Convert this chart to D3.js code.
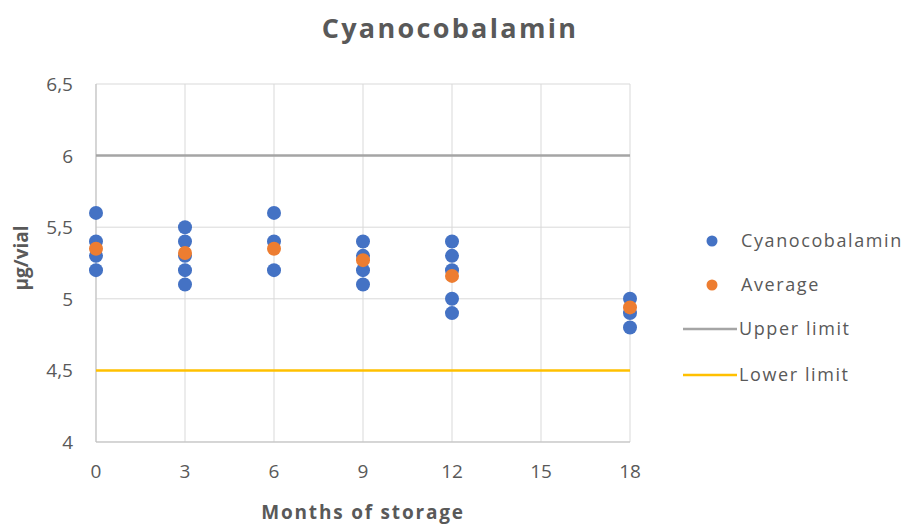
<!DOCTYPE html>
<html>
<head>
<meta charset="utf-8">
<script src="https://cdn.jsdelivr.net/npm/d3@7"></script>
<style>
  body { margin: 0; background: #fff; }
  text { font-family: "Open Sans", Lato, sans-serif; fill: #595959; }
</style>
</head>
<body>
<div class="chart"></div>
<script>
// months of storage
const months = [0, 3, 6, 9, 12, 18];
// individual measurements per month (µg/vial)
const measurements = [
	[5.6, 5.4, 5.3, 5.2],
	[5.5, 5.4, 5.3, 5.2, 5.1],
	[5.6, 5.4, 5.2],
	[5.4, 5.3, 5.2, 5.1],
	[5.4, 5.3, 5.2, 5.0, 4.9],
	[5.0, 4.9, 4.8]
];
const averages = [5.35, 5.32, 5.35, 5.27, 5.16, 4.94];
const upperLimit = 6;
const lowerLimit = 4.5;
const xTicks = [0, 3, 6, 9, 12, 15, 18];
const yTicks = [4, 4.5, 5, 5.5, 6, 6.5];
const legendLabels = ['Cyanocobalamin', 'Average', 'Upper limit', 'Lower limit'];

function renderChart() {
	const width = 907;
	const height = 524;
	const svg = d3.select('.chart')
				.append('svg')
				.attr('width', width)
				.attr('height', height);

	const x = d3.scaleLinear().domain([0, 18]).range([96, 630]);
	const y = d3.scaleLinear().domain([4, 6.5]).range([442, 84]);
	const fmt = v => String(v).replace('.', ',');

	// gridlines
	svg.selectAll('.hgrid')
		.data(yTicks)
		.enter()
		.append('line')
		.attr('x1', x(0))
		.attr('x2', x(18))
		.attr('y1', d => y(d))
		.attr('y2', d => y(d))
		.attr('stroke', '#d9d9d9')
		.attr('stroke-width', 1);
	svg.selectAll('.vgrid')
		.data(xTicks)
		.enter()
		.append('line')
		.attr('x1', d => x(d))
		.attr('x2', d => x(d))
		.attr('y1', y(4))
		.attr('y2', y(6.5))
		.attr('stroke', '#d9d9d9')
		.attr('stroke-width', 1);

	// axis lines
	svg.append('line')
		.attr('x1', x(0)).attr('x2', x(0))
		.attr('y1', y(4)).attr('y2', y(6.5))
		.attr('stroke', '#bfbfbf');
	svg.append('line')
		.attr('x1', x(0)).attr('x2', x(18))
		.attr('y1', y(4)).attr('y2', y(4))
		.attr('stroke', '#bfbfbf');

	// tick labels
	svg.selectAll('.ylab')
		.data(yTicks)
		.enter()
		.append('text')
		.text(d => fmt(d))
		.attr('x', 73)
		.attr('y', d => y(d) + 7)
		.attr('text-anchor', 'end')
		.attr('font-size', '19px');
	svg.selectAll('.xlab')
		.data(xTicks)
		.enter()
		.append('text')
		.text(d => d)
		.attr('x', d => x(d))
		.attr('y', 478)
		.attr('text-anchor', 'middle')
		.attr('font-size', '19px');

	// limit lines
	svg.append('line')
		.attr('x1', x(0)).attr('x2', x(18))
		.attr('y1', y(upperLimit)).attr('y2', y(upperLimit))
		.attr('stroke', '#a5a5a5')
		.attr('stroke-width', 2.5);
	svg.append('line')
		.attr('x1', x(0)).attr('x2', x(18))
		.attr('y1', y(lowerLimit)).attr('y2', y(lowerLimit))
		.attr('stroke', '#ffc000')
		.attr('stroke-width', 2.5);

	// measurement points
	const pts = [];
	months.forEach((m, i) => measurements[i].forEach(v => pts.push({m: m, v: v})));
	svg.selectAll('.pt')
		.data(pts)
		.enter()
		.append('circle')
		.attr('cx', d => x(d.m))
		.attr('cy', d => y(d.v))
		.attr('r', 7)
		.attr('fill', '#4472c4');

	svg.selectAll('.avg')
		.data(months)
		.enter()
		.append('circle')
		.attr('cx', d => x(d))
		.attr('cy', (d, i) => y(averages[i]))
		.attr('r', 7)
		.attr('fill', '#ed7d31');

	// titles
	svg.append('text')
		.text('Cyanocobalamin')
		.attr('x', 450)
		.attr('y', 38)
		.attr('text-anchor', 'middle')
		.attr('font-size', '27px')
		.attr('letter-spacing', '2.3px')
		.attr('font-weight', 'bold');
	svg.append('text')
		.text('Months of storage')
		.attr('x', 363)
		.attr('y', 519)
		.attr('text-anchor', 'middle')
		.attr('font-size', '19px')
		.attr('letter-spacing', '1.8px')
		.attr('font-weight', 'bold');
	svg.append('text')
		.text('µg/vial')
		.attr('transform', 'translate(28,258) rotate(-90)')
		.attr('text-anchor', 'middle')
		.attr('font-size', '19px')
		.attr('font-weight', 'bold');

	// legend
	const ly = [241, 285, 329, 375];
	const colors = ['#4472c4', '#ed7d31', '#a5a5a5', '#ffc000'];
	legendLabels.forEach((lab, i) => {
		if (i < 2) {
			svg.append('circle')
				.attr('cx', 712).attr('cy', ly[i])
				.attr('r', 5.5)
				.attr('fill', colors[i]);
		} else {
			svg.append('line')
				.attr('x1', 683).attr('x2', 737)
				.attr('y1', ly[i]).attr('y2', ly[i])
				.attr('stroke', colors[i])
				.attr('stroke-width', 2.5);
		}
		svg.append('text')
			.text(lab)
			.attr('x', i < 2 ? 741 : 739)
			.attr('y', ly[i] + 6)
			.attr('font-size', '18px')
			.attr('letter-spacing', '1.6px');
	});
}

renderChart();
</script>
</body>
</html>
